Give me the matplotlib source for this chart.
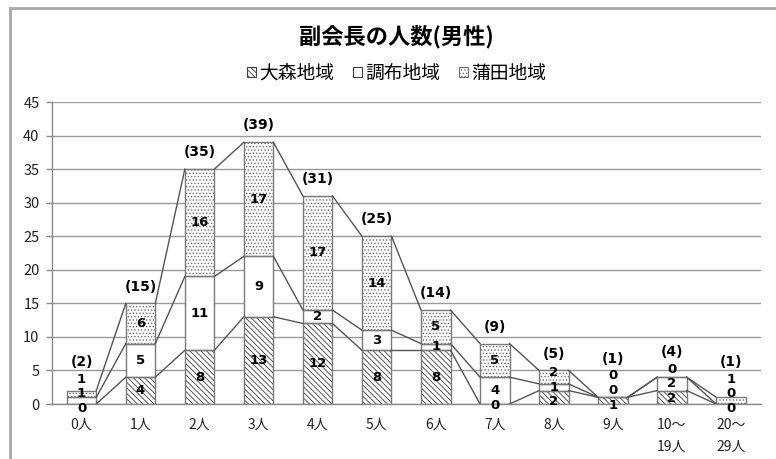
import numpy as np
import matplotlib
matplotlib.use('Agg')
import matplotlib.pyplot as plt
from matplotlib.patches import Patch
from matplotlib.lines import Line2D

plt.rcParams['font.family'] = ['Noto Sans CJK JP', 'DejaVu Sans']
plt.rcParams['hatch.linewidth'] = 0.6

categories = ['0人', '1人', '2人', '3人', '4人', '5人', '6人', '7人', '8人', '9人',
              '10〜\n19人', '20〜\n29人']
omori = [0, 4, 8, 13, 12, 8, 8, 0, 2, 1, 2, 0]
chofu = [1, 5, 11, 9, 2, 3, 1, 4, 1, 0, 2, 0]
kamata = [1, 6, 16, 17, 17, 14, 5, 5, 2, 0, 0, 1]
series_names = ['大森地域', '調布地域', '蒲田地域']

series = [omori, chofu, kamata]
hatches = ['\\' * 6, '', '.....']
hatch_cols = ['#404040', '#404040', '#707070']


def label_positions(vals):
    # segment centres, nudged apart so small stacks stay readable
    bottoms = np.concatenate([[0], np.cumsum(vals)[:-1]])
    pos = list(bottoms + np.array(vals) / 2.0)
    sep = 2.2
    if pos[1] - pos[0] < sep:
        pos[0] -= min(0.7, sep - (pos[1] - pos[0]))
    for k in range(1, len(pos)):
        pos[k] = max(pos[k], pos[k - 1] + sep)
    total_y = max(sum(vals) + 2.5, pos[-1] + 2.5)
    return pos, total_y


fig = plt.figure(figsize=(7.76, 4.59), dpi=100)
ax = fig.add_axes([52 / 776, 55 / 459, 708.5 / 776, 302 / 459])

x = np.arange(len(categories))
w = 0.5
bottom = np.zeros(len(categories))
tops = []
for vals, h, hc in zip(series, hatches, hatch_cols):
    vals = np.array(vals, dtype=float)
    ax.bar(x, vals, w, bottom=bottom, color='white', edgecolor=hc,
           hatch=h, linewidth=0, zorder=2)
    ax.bar(x, vals, w, bottom=bottom, fill=False, edgecolor='#7a7a7a',
           linewidth=1.0, zorder=3)
    bottom = bottom + vals
    tops.append(bottom.copy())

# series lines between neighbouring bars
for lvl in tops:
    for i in range(len(x) - 1):
        ax.plot([x[i] + w / 2, x[i + 1] - w / 2], [lvl[i], lvl[i + 1]],
                color='#555555', lw=1.0, zorder=4)

# value labels and totals
for i in range(len(x)):
    vals = [s[i] for s in series]
    pos, ty = label_positions(vals)
    for v, p in zip(vals, pos):
        ax.text(x[i], p, str(v), ha='center', va='center', fontsize=9.5,
                fontweight='bold', family='DejaVu Sans', zorder=5)
    ax.text(x[i], ty, '(%d)' % sum(vals), ha='center', va='center',
            fontsize=10, fontweight='bold', family='DejaVu Sans', zorder=5)

ax.set_xlim(-0.5, len(x) - 0.5)
ax.set_ylim(0, 45)
ax.set_yticks(np.arange(0, 46, 5))
ax.set_xticks(x)
ax.set_xticklabels(categories, linespacing=1.75)
ax.tick_params(axis='x', length=0, pad=10, labelsize=10, colors='#222222')
ax.tick_params(axis='y', length=4, width=1, color='#8a8a8a', pad=5,
               labelsize=10.5, labelcolor='#222222')
ax.yaxis.grid(True, color='#9a9a9a', lw=1.0, zorder=0)
ax.set_axisbelow(True)
for s in ['top', 'right']:
    ax.spines[s].set_visible(False)
for s in ['left', 'bottom']:
    ax.spines[s].set_color('#8a8a8a')
    ax.spines[s].set_linewidth(1.0)

fig.text(396 / 776, 1 - 37 / 459, '副会長の人数(男性)', ha='center', va='center',
         fontsize=16, fontweight='bold')

handles = [Patch(facecolor='white', edgecolor=hc, hatch=h, lw=0.8)
           for h, hc in zip(hatches, hatch_cols)]
fig.legend(handles, series_names, loc='center', bbox_to_anchor=(397 / 776, 1 - 73 / 459),
           ncol=3, frameon=False, fontsize=13.5, handlelength=0.45, handleheight=0.45,
           handletextpad=0.2, columnspacing=1.0)

# chart frame
fig.add_artist(Line2D([10 / 776, 1], [1 - 8 / 459] * 2, color='#a8a8a8', lw=2))
fig.add_artist(Line2D([10 / 776] * 2, [0, 1 - 8 / 459], color='#a8a8a8', lw=2))

fig.savefig('out.png', dpi=100)
